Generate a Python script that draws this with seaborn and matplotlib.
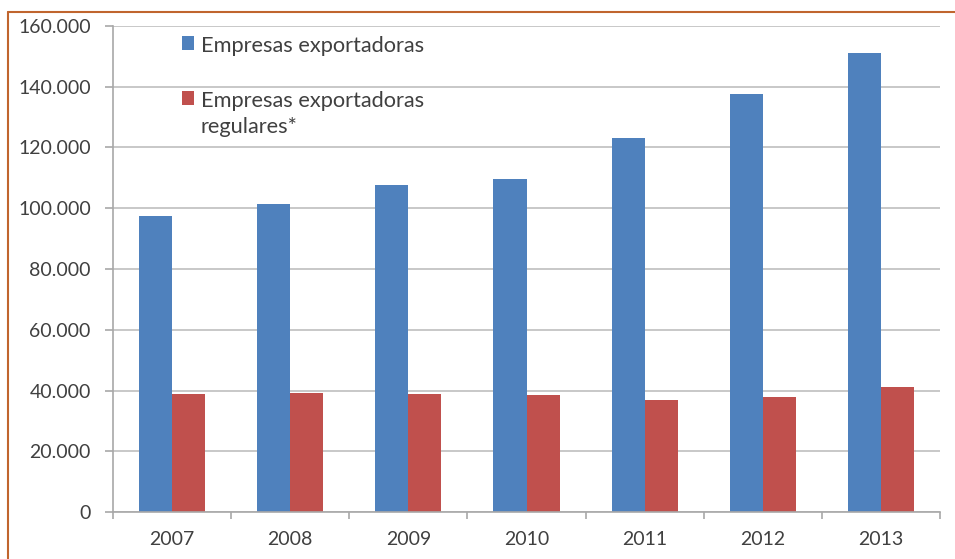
import matplotlib
matplotlib.use("Agg")
import matplotlib.pyplot as plt
from matplotlib.lines import Line2D
from matplotlib.ticker import FixedLocator, FuncFormatter
import pandas as pd
import seaborn as sns

# Data
years = ["2007", "2008", "2009", "2010", "2011", "2012", "2013"]
exportadoras = [97500, 101500, 107500, 109500, 123000, 137500, 151000]
regulares = [39000, 39300, 39000, 38600, 37000, 38000, 41100]
series_names = ["Empresas exportadoras", "Empresas exportadoras\nregulares*"]
y_ticks = [0, 20000, 40000, 60000, 80000, 100000, 120000, 140000, 160000]
colors = ["#4f81bd", "#c0504d"]

df = pd.DataFrame({
    "Año": years * 2,
    "Empresas": exportadoras + regulares,
    "Serie": [series_names[0]] * len(years) + [series_names[1]] * len(years),
})

sns.set_theme(style="white")
plt.rcParams["font.family"] = ["Lato", "DejaVu Sans"]

W, H = 955, 559
fig = plt.figure(figsize=(W / 100, H / 100), dpi=100)
ax = fig.add_axes([113 / W, 1 - 512 / H, 827 / W, 486 / H])

sns.barplot(data=df, x="Año", y="Empresas", hue="Serie", palette=colors,
            saturation=1, width=0.56, gap=0, errorbar=None, linewidth=0, ax=ax)

ax.set_xlim(-0.5, len(years) - 0.5)
ax.set_ylim(0, 160000)
ax.set_xlabel("")
ax.set_ylabel("")

# y axis: thousands separated with a dot
ax.yaxis.set_major_locator(FixedLocator(y_ticks))
ax.yaxis.set_major_formatter(FuncFormatter(lambda v, p: f"{v:,.0f}".replace(",", ".")))
ax.yaxis.grid(True, color="#c4c4c4", lw=1.3)
ax.set_axisbelow(True)

for side in ("top", "right"):
    ax.spines[side].set_visible(False)
for side in ("left", "bottom"):
    ax.spines[side].set_color("#a8a8a8")
    ax.spines[side].set_linewidth(1.2)

text_color = "#404040"
ax.tick_params(axis="y", which="major", left=True, length=6, width=1.2,
               color="#a8a8a8", direction="out", pad=10, labelsize=14,
               labelcolor=text_color)
ax.tick_params(axis="x", which="major", length=0, pad=14, labelsize=14,
               labelcolor=text_color)
# category separators on the x axis
ax.xaxis.set_minor_locator(FixedLocator([i - 0.5 for i in range(len(years) + 1)]))
ax.tick_params(axis="x", which="minor", bottom=True, length=5, width=1.2,
               color="#a8a8a8", direction="out")

handles, labels = ax.get_legend_handles_labels()
leg = ax.legend(handles, labels, loc="upper left", bbox_to_anchor=(0.083, 0.979),
                frameon=False, fontsize=15.7, handlelength=0.58, handleheight=0.58,
                handletextpad=0.3, labelspacing=1.6, borderpad=0,
                borderaxespad=0)
for t in leg.get_texts():
    t.set_color(text_color)
    t.set_linespacing(1.38)
# keep each marker level with the first line of its label
for column in leg._legend_handle_box.get_children():
    for item in column.get_children():
        item.align = "top"

# frame edges
edge = "#c0652e"
fig.add_artist(Line2D([8 / W, 1], [1 - 12 / H, 1 - 12 / H], color=edge, lw=1.5,
                      transform=fig.transFigure))
fig.add_artist(Line2D([8 / W, 8 / W], [0, 1 - 12 / H], color=edge, lw=1.5,
                      transform=fig.transFigure))

fig.savefig("out.png", dpi=100)
